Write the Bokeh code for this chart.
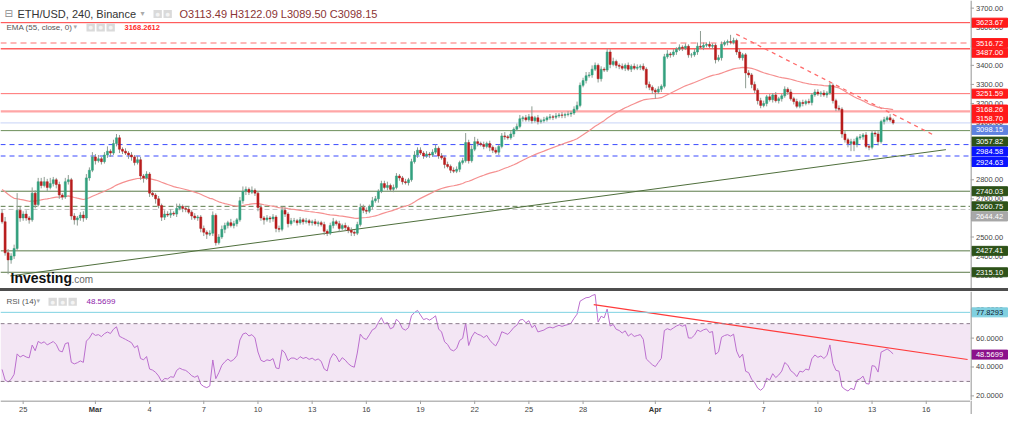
import numpy as np
from bokeh.plotting import figure
from bokeh.models import (Range1d, Label, Span, Div, ColumnDataSource, BoxAnnotation)
from bokeh.layouts import column, row
from bokeh.core.properties import value
from bokeh.embed import file_html
from bokeh.resources import INLINE

FONT = "Liberation Sans"

# ---------------- data (ETH/USD 4h) ----------------
first_open = 2625.0
closes_by_day = [
    [2580],                                        # Feb 23 (20:00)
    [2417, 2380, 2400, 2440, 2640, 2600],          # Feb 24
    [2620, 2600, 2590, 2730, 2670, 2790],          # Feb 25
    [2770, 2790, 2760, 2780, 2800, 2775],          # Feb 26
    [2720, 2710, 2790, 2800, 2610, 2590],          # Feb 27
    [2600, 2615, 2600, 2810, 2850, 2920],          # Feb 28
    [2900, 2910, 2895, 2930, 2950, 2940],          # Mar 1
    [2990, 3020, 2960, 2950, 2940, 2930],          # Mar 2
    [2920, 2890, 2905, 2820, 2810, 2830],          # Mar 3
    [2730, 2720, 2700, 2665, 2604, 2620],          # Mar 4
    [2615, 2625, 2620, 2650, 2660, 2650],          # Mar 5
    [2645, 2630, 2610, 2600, 2605, 2545],          # Mar 6
    [2525, 2515, 2520, 2614, 2470, 2500],          # Mar 7
    [2540, 2560, 2575, 2560, 2570, 2590],          # Mar 8
    [2690, 2740, 2750, 2735, 2745, 2730],          # Mar 9
    [2655, 2600, 2590, 2600, 2595, 2605],          # Mar 10
    [2545, 2540, 2640, 2620, 2570, 2585],          # Mar 11
    [2585, 2575, 2590, 2580, 2585, 2575],          # Mar 12
    [2580, 2570, 2575, 2565, 2530, 2520],          # Mar 13
    [2560, 2580, 2570, 2545, 2560, 2550],          # Mar 14
    [2535, 2525, 2520, 2565, 2655, 2640],          # Mar 15
    [2635, 2660, 2690, 2700, 2740, 2780],          # Mar 16
    [2760, 2770, 2750, 2760, 2820, 2810],          # Mar 17
    [2790, 2785, 2800, 2895, 2930, 2955],          # Mar 18
    [2940, 2925, 2935, 2930, 2945, 2965],          # Mar 19
    [2925, 2915, 2880, 2870, 2850, 2845],          # Mar 20
    [2855, 2890, 2900, 2995, 2900, 2960],          # Mar 21
    [3000, 2990, 2985, 2975, 2990, 2970],          # Mar 22
    [2955, 2945, 2975, 3030, 3025, 3020],          # Mar 23
    [3040, 3065, 3080, 3120, 3125, 3115],          # Mar 24
    [3130, 3110, 3125, 3105, 3110, 3115],          # Mar 25
    [3125, 3130, 3128, 3135, 3140, 3138],          # Mar 26
    [3142, 3145, 3150, 3170, 3190, 3295],          # Mar 27
    [3320, 3345, 3350, 3380, 3400, 3330],          # Mar 28
    [3380, 3375, 3470, 3405, 3420, 3400],          # Mar 29
    [3395, 3385, 3400, 3380, 3395, 3385],          # Mar 30
    [3390, 3395, 3380, 3300, 3285, 3270],          # Mar 31
    [3260, 3275, 3290, 3445, 3460, 3455],          # Apr 1
    [3470, 3485, 3495, 3490, 3500, 3455],          # Apr 2
    [3455, 3470, 3500, 3495, 3505, 3510],          # Apr 3
    [3500, 3505, 3430, 3440, 3510, 3520],          # Apr 4
    [3525, 3520, 3530, 3470, 3440, 3455],          # Apr 5
    [3360, 3350, 3300, 3270, 3215, 3190],          # Apr 6
    [3200, 3235, 3220, 3245, 3215, 3225],          # Apr 7
    [3240, 3275, 3260, 3225, 3210, 3185],          # Apr 8
    [3205, 3200, 3210, 3205, 3245, 3260],          # Apr 9
    [3250, 3255, 3245, 3255, 3295, 3215],          # Apr 10
    [3175, 3170, 3040, 3010, 2990, 3000],          # Apr 11
    [2985, 3020, 3025, 3035, 2975, 2970],          # Apr 12
    [3045, 3040, 3000, 3105, 3115, 3125],          # Apr 13
    [3113.49, 3098.15],                            # Apr 14
]
wick_up_by_day = [
    [20],
    [25, 20, 15, 20, 90, 20], [15, 20, 10, 30, 15, 20], [20, 25, 15, 30, 15, 10],
    [15, 10, 20, 25, 10, 15], [10, 15, 20, 20, 15, 25],
    [15, 20, 10, 15, 25, 10], [20, 20, 15, 10, 15, 10], [15, 10, 20, 15, 10, 15],
    [10, 15, 10, 15, 10, 20], [15, 20, 10, 25, 15, 10], [10, 15, 10, 15, 10, 10],
    [15, 10, 15, 20, 10, 15], [20, 15, 10, 20, 15, 10], [20, 25, 15, 10, 20, 10],
    [10, 15, 10, 15, 10, 15], [10, 15, 20, 15, 10, 15], [15, 10, 15, 10, 15, 10],
    [10, 15, 10, 10, 15, 10], [15, 20, 10, 15, 10, 15], [10, 15, 10, 15, 20, 15],
    [15, 10, 20, 15, 10, 15], [15, 20, 10, 15, 15, 10], [10, 15, 10, 15, 20, 15],
    [15, 10, 15, 10, 15, 20], [10, 15, 10, 15, 10, 15], [15, 10, 15, 50, 15, 20],
    [25, 15, 10, 15, 10, 15], [10, 15, 10, 15, 20, 10], [15, 10, 15, 20, 10, 15],
    [15, 55, 10, 15, 10, 15], [10, 15, 10, 15, 10, 15], [10, 15, 10, 15, 20, 15],
    [15, 20, 15, 20, 15, 10], [15, 10, 18, 15, 20, 10], [10, 15, 10, 15, 10, 15],
    [15, 10, 15, 10, 15, 10],
    [10, 15, 10, 15, 20, 10], [15, 10, 15, 10, 15, 10], [10, 15, 20, 80, 15, 10],
    [15, 10, 10, 15, 15, 10], [10, 35, 15, 10, 15, 10], [10, 15, 10, 15, 10, 15],
    [15, 10, 15, 10, 15, 10], [10, 15, 10, 15, 10, 15], [10, 15, 10, 15, 10, 15],
    [15, 10, 15, 10, 15, 10], [10, 15, 10, 15, 10, 15], [15, 10, 15, 10, 15, 10],
    [15, 10, 15, 10, 15, 10],
    [19, 8.6],
]
wick_dn_by_day = [
    [10],
    [15, 75, 20, 15, 10, 20], [15, 15, 20, 10, 20, 10], [15, 10, 20, 10, 15, 20],
    [20, 15, 10, 15, 20, 25], [30, 15, 20, 10, 15, 10],
    [20, 10, 15, 10, 15, 20], [10, 15, 20, 15, 10, 20], [20, 15, 10, 20, 25, 10],
    [20, 10, 25, 15, 20, 15], [10, 15, 10, 15, 10, 20], [15, 10, 20, 10, 15, 20],
    [20, 25, 10, 15, 15, 10], [10, 20, 15, 10, 15, 15], [10, 15, 20, 15, 10, 15],
    [20, 15, 25, 10, 20, 15], [20, 15, 10, 15, 20, 10], [10, 15, 10, 15, 10, 15],
    [15, 10, 15, 10, 20, 15], [10, 15, 10, 20, 10, 15], [15, 20, 15, 10, 10, 15],
    [15, 10, 15, 10, 20, 10], [10, 15, 10, 15, 10, 15], [15, 10, 15, 10, 10, 15],
    [10, 15, 10, 15, 10, 10], [15, 10, 20, 10, 15, 10], [10, 15, 10, 10, 15, 10],
    [10, 15, 10, 15, 10, 20], [15, 10, 15, 10, 15, 10], [10, 15, 10, 10, 15, 10],
    [10, 15, 10, 15, 10, 10], [10, 10, 15, 10, 10, 15], [15, 10, 15, 10, 10, 10],
    [10, 15, 10, 15, 10, 20], [15, 10, 10, 20, 10, 15], [15, 10, 15, 10, 15, 10],
    [10, 15, 10, 20, 15, 20],
    [35, 10, 15, 10, 10, 15], [10, 15, 10, 15, 10, 15], [15, 10, 15, 10, 15, 10],
    [10, 15, 20, 10, 15, 10], [15, 10, 10, 15, 10, 15], [80, 15, 20, 15, 20, 15],
    [10, 15, 10, 15, 10, 15], [15, 10, 15, 10, 15, 10], [10, 15, 10, 10, 15, 10],
    [10, 15, 10, 15, 10, 15], [15, 10, 20, 15, 20, 40], [35, 15, 10, 15, 10, 15],
    [10, 15, 20, 10, 15, 10],
    [10, 8.65],
]

first_bar_day = -7 / 6     # Feb 23 20:00, in days counted from Feb 25 00:00
bar_step = 1 / 6           # 4-hour bars

ema_period = 55
ema_seed = 2755.0
rsi_period = 14
rsi_seed_gain, rsi_seed_loss = 22.0, 32.0

last_ohlc = ["3113.49", "3122.09", "3089.50", "3098.15"]
ema_value = 3168.2612
rsi_value = 48.5699
rsi_ref_level = 77.8293

level_values = [3623.67, 3516.72, 3487.00, 3251.59, 3158.70, 3098.15, 3057.82,
                2984.58, 2924.63, 2740.03, 2660.75, 2644.42, 2427.41, 2315.10]

x_tick_days = [0, 4, 7, 10, 13, 16, 19, 22, 25, 28, 31, 35, 38, 41, 44, 47, 50]
x_tick_labels = ["25", "Mar", "4", "7", "10", "13", "16", "19", "22", "25", "28",
                 "Apr", "4", "7", "10", "13", "16"]
price_ticks = [2300, 2400, 2500, 2600, 2700, 2800, 2900, 3000, 3100, 3200, 3300,
               3400, 3500, 3600, 3700]
rsi_ticks = [20, 40, 60, 80]

up_trend_x, up_trend_y = [-0.71, 51.09], [2296.0, 2958.0]
down_trend_x, down_trend_y = [39.48, 50.44], [3564.0, 3033.0]
rsi_trend_x, rsi_trend_y = [31.59, 52.29], [83.2, 45.2]

# ---------------- styles ----------------
level_line = [("#ff3b3b", 1, "solid"), ("#ffa0a0", 1.5, "6 4"), ("#ff6060", 1.5, "solid"),
              ("#ff7070", 1, "solid"), ("#ffa6a6", 2.2, "solid"), ("#8ea6ee", 1, "1 1"),
              ("#6e8f5a", 1, "solid"), ("#3b4bff", 1, "5 4"), ("#3b4bff", 1, "5 4"),
              ("#5a7a48", 1, "solid"), ("#5a7a48", 1, "5 3"), ("#c4c4c4", 1, "5 3"),
              ("#5a7a48", 1, "solid"), ("#5a7a48", 1, "solid")]
tag_bg = ["#ff1a1a", "#ff1a1a", "#ff1a1a", "#ff1a1a", "#ff1a1a", "#5f82e0", "#2d5219",
          "#0a14ff", "#0a14ff", "#2d5219", "#2d5219", "#a8a8a8", "#2d5219", "#2d5219"]
tag_shift_px = [0, 0, 4, 0, 7, 7, 11, 7, 6, 0, 0, 7, 0, 0]

UP, DOWN, WICK = "#33a07e", "#b81d1d", "#8e9c92"
AXIS = "#a0a0a0"

# ---------------- derived series ----------------
closes = [c for d in closes_by_day for c in d]
w_up = [w for d in wick_up_by_day for w in d]
w_dn = [w for d in wick_dn_by_day for w in d]
n = len(closes)
t = first_bar_day + np.arange(n) * bar_step
opens = [first_open] + closes[:-1]
tops = [max(o, c) for o, c in zip(opens, closes)]
bots = [min(o, c) for o, c in zip(opens, closes)]
highs = [tp + w for tp, w in zip(tops, w_up)]
lows = [bt - w for bt, w in zip(bots, w_dn)]
colors = [UP if c >= o else DOWN for o, c in zip(opens, closes)]

ema, e = [], ema_seed
k = 2 / (ema_period + 1)
for c in closes:
    e = e + (c - e) * k
    ema.append(e)

rsi, ag, al, prev = [], rsi_seed_gain, rsi_seed_loss, first_open
for c in closes:
    ch = c - prev
    prev = c
    ag = (ag * (rsi_period - 1) + max(ch, 0)) / rsi_period
    al = (al * (rsi_period - 1) + max(-ch, 0)) / rsi_period
    rsi.append(100 - 100 / (1 + ag / al))

# ---------------- geometry ----------------
X0, X1 = -1.254, 52.45
P0, P1 = 2230.0, 3740.0
R0, R1 = 16.8, 92.26
FW, AW, PH, RH, XH = 970, 38, 288, 109, 14
REF_PH = 299.0
upp = (P1 - P0) / PH
rupp = (R1 - R0) / RH


def py(yref):
    return P1 - yref * (P1 - P0) / REF_PH


def base_fig(w, h, xr, yr):
    f = figure(frame_width=w, frame_height=h, x_range=xr, y_range=yr,
               output_backend="svg", toolbar_location=None, x_axis_location=None,
               y_axis_location=None, min_border_left=0, min_border_right=0,
               min_border_top=0, min_border_bottom=0)
    f.grid.visible = False
    f.outline_line_color = None
    f.background_fill_color = "white"
    f.border_fill_color = "white"
    return f


def add_text(fig, x, y, text, size="8px", color="#555", bold=False, font=FONT,
             x_offset=0, bg=None, pad=0):
    kw = {}
    if bg is not None:
        kw = dict(background_fill_color=bg, padding=pad)
    fig.add_layout(Label(x=x, y=y, x_offset=x_offset, text=text, text_font=font,
                         text_font_size=size, text_color=color, text_align="left",
                         text_baseline="middle",
                         text_font_style="bold" if bold else "normal", **kw))


def axis_strip(yr, ticks, fmt, height, tags):
    """Right-hand price scale: axis line, ticks, tick labels and value tags."""
    a = base_fig(AW, height, Range1d(0, AW), yr)
    a.add_layout(Span(location=0.5, dimension="height", line_color=AXIS, line_width=1.5))
    a.segment(x0=[0] * len(ticks), y0=ticks, x1=[3.5] * len(ticks), y1=ticks,
              line_color=AXIS, line_width=1)
    a.text(x=[5.5] * len(ticks), y=ticks, text=[fmt % v for v in ticks],
           text_font=value(FONT), text_font_size="7.5px", text_color="#444444",
           text_baseline="middle", text_align="left")
    unit = (yr.end - yr.start) / height
    for y, txt, bg, fg in tags:
        a.rect(x=[19], y=[y], width=36, height=9 * unit, fill_color=bg, line_color=bg)
        a.text(x=[19], y=[y], text=[txt], text_font=value(FONT), text_font_size="7.5px",
               text_color=fg, text_baseline="middle", text_align="center")
    return a


# ---------------- price panel ----------------
p = base_fig(FW, PH, Range1d(X0, X1), Range1d(P0, P1))

for lv, (col, wd, dash) in zip(level_values, level_line):
    p.add_layout(Span(location=lv, dimension="width", line_color=col, line_width=wd,
                      line_dash=dash, level="underlay"))

p.line(up_trend_x, up_trend_y, line_color="#4f6f3c", line_width=1)
p.line(down_trend_x, down_trend_y, line_color="#ff6a6a", line_width=1.3, line_dash="4 4")
p.line(t, ema, line_color="#f59090", line_width=1.2)

src = ColumnDataSource(dict(t=t, h=highs, l=lows, top=tops, bot=bots, color=colors))
p.segment(x0="t", y0="l", x1="t", y1="h", source=src, line_color=WICK, line_width=1)
p.vbar(x="t", width=0.115, top="top", bottom="bot", source=src,
       fill_color="color", line_color="color", line_width=0.5)

# header
add_text(p, X0, py(14), "\u229f", size="10px", color="#888", font="DejaVu Sans", x_offset=4)
add_text(p, X0, py(14), "ETH/USD, 240, Binance", size="11px", color="#333", x_offset=17)
add_text(p, X0, py(13), "\u25be", size="8px", color="#aaa", font="DejaVu Sans", x_offset=140)
for xo in (153, 163):
    add_text(p, X0, py(14), "\u25cf", size="5px", color="#f4f4f4", font="DejaVu Sans",
             x_offset=xo, bg="#dadada", pad=(2, 1))
add_text(p, X0, py(14), "O" + last_ohlc[0] + " H" + last_ohlc[1] + " L" + last_ohlc[2]
         + " C" + last_ohlc[3], size="11px", color="#8b3434", x_offset=179)
add_text(p, X0, py(28), "EMA (55, close, 0)", size="8px", color="#555", x_offset=6)
add_text(p, X0, py(27), "\u25be", size="7px", color="#aaa", font="DejaVu Sans", x_offset=73)
for xo in (86, 96, 106):
    add_text(p, X0, py(28), "\u25cf", size="5px", color="#f4f4f4", font="DejaVu Sans",
             x_offset=xo, bg="#dadada", pad=(2, 1))
add_text(p, X0, py(28), f"{ema_value:.4f}", size="7.5px", color="#ff2a2a", bold=True,
         x_offset=124)
add_text(p, X0, py(288), "Investing", size="14px", color="#111", bold=True, x_offset=10)
add_text(p, X0, py(290), ".com", size="10px", color="#666", x_offset=71)

price_tags = [(lv - sh * upp, f"{lv:.2f}", bg, "white")
              for lv, bg, sh in zip(level_values, tag_bg, tag_shift_px)]
price_tags.insert(4, (ema_value, f"{ema_value:.2f}", "#ff1a1a", "white"))
pa = axis_strip(p.y_range, price_ticks, "%.2f", PH, price_tags)

# ---------------- separator ----------------
sep = Div(text="", width=FW + AW, height=3, margin=(0, 0, 0, 0),
          styles={"background-color": "#4d4d4d"})

# ---------------- RSI panel ----------------
r = base_fig(FW, RH, p.x_range, Range1d(R0, R1))
r.add_layout(BoxAnnotation(bottom=30, top=70, fill_color="#f3e6f4", fill_alpha=1,
                           line_color=None, level="underlay"))
for lv in (30, 70):
    r.add_layout(Span(location=lv, dimension="width", line_color="#8c7d8c",
                      line_width=1, line_dash="4 3"))
r.add_layout(Span(location=rsi_ref_level, dimension="width", line_color="#7fd2e2",
                  line_width=1))
r.line(t, rsi, line_color="#bb6fce", line_width=1)
r.line(rsi_trend_x, rsi_trend_y, line_color="#ff3b3b", line_width=1.2)

ry = 60 - (315 - 354) / 1.55
add_text(r, X0, ry, "RSI (14)", size="8px", color="#555", x_offset=6)
add_text(r, X0, ry + 0.5, "\u25be", size="7px", color="#aaa", font="DejaVu Sans", x_offset=36)
for xo in (48, 58, 68):
    add_text(r, X0, ry, "\u25cf", size="5px", color="#f4f4f4", font="DejaVu Sans",
             x_offset=xo, bg="#dadada", pad=(2, 1))
add_text(r, X0, ry, f"{rsi_value:.4f}", size="8px", color="#8e24aa", x_offset=86)

rsi_tags = [(rsi_ref_level, f"{rsi_ref_level:.4f}", "#80d0e0", "#102030"),
            (rsi_value, f"{rsi_value:.4f}", "#8b118b", "white")]
ra = axis_strip(r.y_range, rsi_ticks, "%.4f", RH, rsi_tags)

# ---------------- date scale ----------------
xs = base_fig(FW, XH, p.x_range, Range1d(0, XH))
xs.add_layout(Span(location=XH - 0.5, dimension="width", line_color=AXIS, line_width=1.5))
xs.segment(x0=x_tick_days, y0=[XH] * len(x_tick_days), x1=x_tick_days,
           y1=[XH - 3.5] * len(x_tick_days), line_color=AXIS, line_width=1)
plain = [(d, s) for d, s in zip(x_tick_days, x_tick_labels) if s not in ("Mar", "Apr")]
bold = [(d, s) for d, s in zip(x_tick_days, x_tick_labels) if s in ("Mar", "Apr")]
xs.text(x=[d for d, _ in plain], y=[5.5] * len(plain), text=[s for _, s in plain],
        text_font=value(FONT), text_font_size="7.5px", text_color="#444444",
        text_align="center", text_baseline="middle")
xs.text(x=[d for d, _ in bold], y=[5.5] * len(bold), text=[s for _, s in bold],
        text_font=value(FONT), text_font_size="7.5px", text_color="#333333",
        text_font_style="bold", text_align="center", text_baseline="middle")
xa = base_fig(AW, XH, Range1d(0, AW), Range1d(0, XH))
xa.add_layout(Span(location=0.5, dimension="height", line_color=AXIS, line_width=1.5))

layout = column(row(p, pa), sep, row(r, ra), row(xs, xa), spacing=0)
open("out.html", "w").write(file_html(layout, INLINE))
